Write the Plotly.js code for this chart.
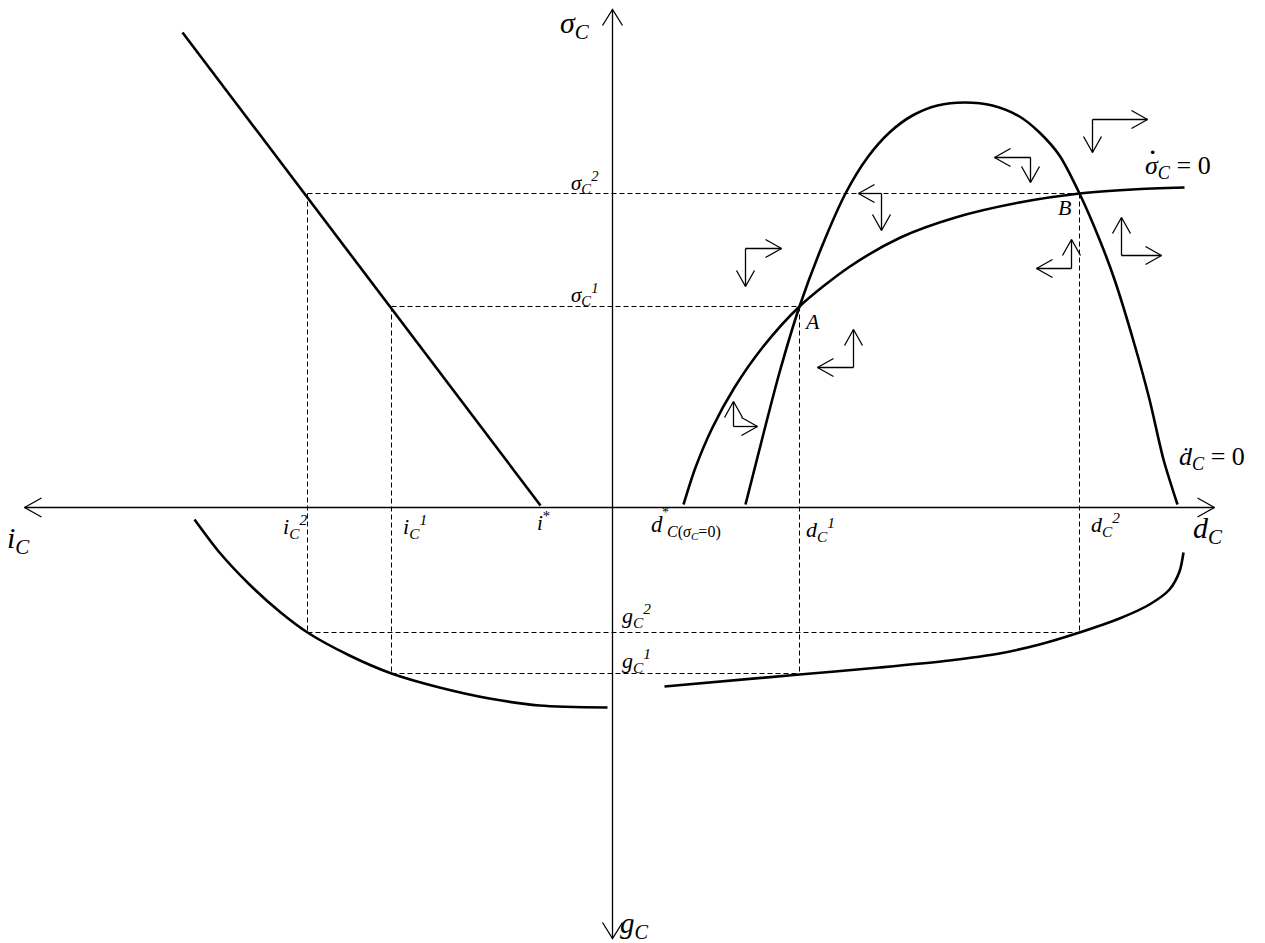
<!DOCTYPE html>
<html>
<head>
<meta charset="utf-8">
<script src="https://cdn.plot.ly/plotly-3.0.1.min.js"></script>
<style>html,body{margin:0;padding:0;background:#fff;}#chart{width:1265px;height:943px;}</style>
</head>
<body>
<div id="chart"></div>
<script>
// ---- key values (schematic units, origin at axes crossing) ----
const iStar = -72, i1 = -221, i2 = -305;
const dStar = 71, d1 = 187, d2 = 467;
const s1 = 201, s2 = 314;
const g1 = -166, g2 = -125;

// i_C vs sigma_C line (upper-left quadrant)
const iLineX = [-430, iStar];
const iLineY = [475, 2];

// sigma_C-dot = 0 locus
const sDotX = [71, 83, 100, 122, 150, 187, 236, 288, 343, 407, 467, 520, 572];
const sDotY = [3, 40, 80, 120, 160, 201, 240, 270, 290, 305, 314, 318, 320];

// d_C-dot = 0 locus
const dDotX = [133, 150, 167, 187, 209, 233, 255, 277, 300, 325, 352, 380, 407, 427, 447, 467, 487, 502, 522, 537, 551, 565];
const dDotY = [3, 70, 135, 201, 260, 314, 350, 375, 392, 402, 405, 402, 391, 375, 352, 314, 268, 228, 163, 108, 48, 3];

// g_C vs i_C (lower-left)
const gLeftX = [-418, -393, -363, -333, -305, -263, -221, -173, -123, -73, -5];
const gLeftY = [-12, -45, -77, -104, -125, -148, -166, -180, -191, -198, -200];

// g_C vs d_C (lower-right)
const gRightX = [52, 187, 267, 337, 387, 427, 467, 507, 537, 557, 567, 571];
const gRightY = [-179, -167, -160, -153, -146, -137, -125, -111, -97, -82, -64, -45];

// phase arrows: corner, horizontal tip x, vertical tip y
const phaseCx = [133, 269, 418, 480, 509, 459, 241, 121];
const phaseCy = [259, 314, 350, 388, 252, 239, 140, 81];
const phaseHx = [169, 246, 382, 535, 549, 424, 205, 145];
const phaseVy = [221, 277, 325, 355, 290, 268, 178, 106];

// ---- helpers ----
function head(tx, ty, dx, dy, back, half) {
  const L = Math.hypot(dx, dy); dx /= L; dy /= L;
  const px = -dy, py = dx;
  return {
    x: [tx - dx * back + px * half, tx, tx - dx * back - px * half, null],
    y: [ty - dy * back + py * half, ty, ty - dy * back - py * half, null]
  };
}
function seg(arrX, arrY, x0, y0, x1, y1) { arrX.push(x0, x1, null); arrY.push(y0, y1, null); }

const traces = [];

// axes
const ax = [], ay = [];
seg(ax, ay, -588, 0, 602, 0);
seg(ax, ay, 0, 498, 0, -431);
[head(-588, 0, -1, 0, 17, 9.5), head(602, 0, 1, 0, 17, 9.5), head(0, 498, 0, 1, 16, 10), head(0, -431, 0, -1, 16, 10)]
  .forEach(h => { ax.push(...h.x); ay.push(...h.y); });
traces.push({x: ax, y: ay, mode: 'lines', line: {color: '#000', width: 1.3}, hoverinfo: 'skip'});

// dashed guide lines
const gx = [], gy = [];
seg(gx, gy, i2, s2, d2, s2);
seg(gx, gy, i1, s1, d1, s1);
seg(gx, gy, i2, s2, i2, g2);
seg(gx, gy, i1, s1, i1, g1);
seg(gx, gy, d1, s1, d1, g1);
seg(gx, gy, d2, s2, d2, g2);
seg(gx, gy, i2, g2, d2, g2);
seg(gx, gy, i1, g1, d1, g1);
traces.push({x: gx, y: gy, mode: 'lines', line: {color: '#000', width: 1, dash: '5px,3px'}, hoverinfo: 'skip'});

// curves
const curveStyle = {color: '#000', width: 2.6};
const smooth = Object.assign({shape: 'spline', smoothing: 0.8}, curveStyle);
traces.push({x: iLineX, y: iLineY, mode: 'lines', line: curveStyle, hoverinfo: 'skip'});
traces.push({x: sDotX, y: sDotY, mode: 'lines', line: smooth, hoverinfo: 'skip'});
traces.push({x: dDotX, y: dDotY, mode: 'lines', line: smooth, hoverinfo: 'skip'});
traces.push({x: gLeftX, y: gLeftY, mode: 'lines', line: smooth, hoverinfo: 'skip'});
traces.push({x: gRightX, y: gRightY, mode: 'lines', line: smooth, hoverinfo: 'skip'});

// phase arrows
const px = [], py = [];
for (let k = 0; k < phaseCx.length; k++) {
  const cx = phaseCx[k], cy = phaseCy[k], hx = phaseHx[k], vy = phaseVy[k];
  seg(px, py, cx, cy, hx, cy);
  seg(px, py, cx, cy, cx, vy);
  const h1 = head(hx, cy, hx - cx, 0, 16, 9);
  const h2 = head(cx, vy, 0, vy - cy, 16, 9);
  px.push(...h1.x, ...h2.x); py.push(...h1.y, ...h2.y);
}
traces.push({x: px, y: py, mode: 'lines', line: {color: '#000', width: 1.3}, hoverinfo: 'skip'});

// ---- labels ----
const F = 'Liberation Serif, Times New Roman, serif';
function lab(x, y, text, size, anchor) {
  return {x: x, y: y, xref: 'x', yref: 'y', text: text, showarrow: false,
          xanchor: anchor || 'center', yanchor: 'middle', font: {family: F, size: size, color: '#000'}};
}
const annotations = [
  lab(-38, 483, '<i>σ<sub>C</sub></i>', 30),
  lab(-28, s2 + 11, '<i>σ<sub>C</sub><sup>2</sup></i>', 21),
  lab(-28, s1 + 12, '<i>σ<sub>C</sub><sup>1</sup></i>', 21),
  lab(i2 - 13, -19, '<i>i<sub>C</sub><sup>2</sup></i>', 22),
  lab(i1 + 23, -19, '<i>i<sub>C</sub><sup>1</sup></i>', 22),
  lab(iStar + 3, -14, '<i>i</i><sup>*</sup>', 21),
  lab(dStar - 27, -17, '<i>d</i>', 23),
  lab(dStar - 18, -5, '*', 14),
  lab(dStar + 10, -25, '<i>C</i>(<i>σ<sub>C</sub></i>=0)', 16),
  lab(d1 + 21, -22, '<i>d<sub>C</sub><sup>1</sup></i>', 22),
  lab(d2 + 26, -17, '<i>d<sub>C</sub><sup>2</sup></i>', 22),
  lab(595, -22, '<i>d<sub>C</sub></i>', 30),
  lab(-594, -32, '<i>i<sub>C</sub></i>', 30),
  lab(24, g2 + 17, '<i>g<sub>C</sub><sup>2</sup></i>', 22),
  lab(24, g1 + 13, '<i>g<sub>C</sub><sup>1</sup></i>', 22),
  lab(22, -417, '<i>g<sub>C</sub></i>', 29),
  lab(d1 + 12, s1 - 15, '<i>A</i>', 22),
  lab(d2 - 15, s2 - 14, '<i>B</i>', 22),
  lab(530, 341, '<i>σ<sub>C</sub></i> = 0', 26, 'left'),
  lab(540, 356, '<b>·</b>', 22),
  lab(564, 50, '<i>ḋ<sub>C</sub></i> = 0', 26, 'left')
];

const layout = {
  width: 1265, height: 943,
  margin: {l: 0, r: 0, t: 0, b: 0},
  paper_bgcolor: '#fff', plot_bgcolor: '#fff',
  showlegend: false,
  xaxis: {range: [-612.5, 652.5], visible: false, fixedrange: true},
  yaxis: {range: [-435.5, 507.5], visible: false, fixedrange: true},
  annotations: annotations
};
Plotly.newPlot('chart', traces, layout, {staticPlot: true, displayModeBar: false});
</script>
</body>
</html>
